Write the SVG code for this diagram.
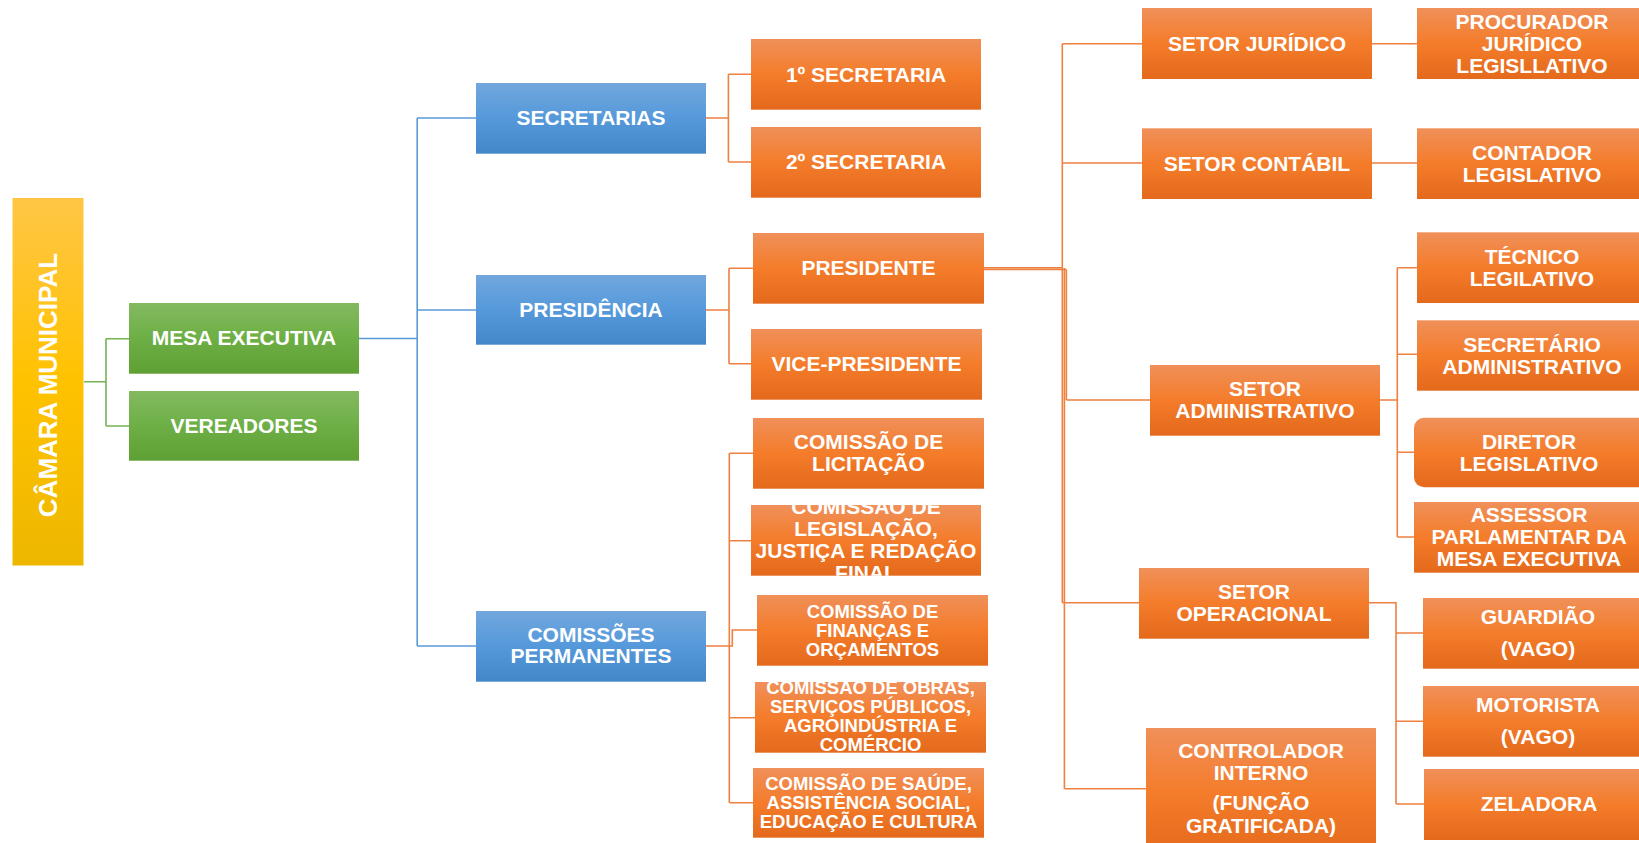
<svg xmlns="http://www.w3.org/2000/svg" width="1639" height="843" viewBox="0 0 1639 843">
<style>
.t{font-family:"Liberation Sans",Arial,sans-serif;font-weight:bold;font-size:21px;fill:#fff;text-anchor:middle}
.s{font-size:18.5px}
.o{fill:url(#gO)}
.b{fill:url(#gB)}
.g{fill:url(#gG)}
.cO{fill:none;stroke:#EE8040;stroke-width:1.6}
.cB{fill:none;stroke:#5B9BD5;stroke-width:1.6}
.cG{fill:none;stroke:#76B352;stroke-width:1.6}
</style>
<defs>
<linearGradient id="gO" x1="0" y1="0" x2="0" y2="1"><stop offset="0" stop-color="#F0905A"/><stop offset="0.5" stop-color="#F47C2A"/><stop offset="1" stop-color="#E4691C"/></linearGradient>
<linearGradient id="gB" x1="0" y1="0" x2="0" y2="1"><stop offset="0" stop-color="#72A7DD"/><stop offset="0.5" stop-color="#5599DB"/><stop offset="1" stop-color="#4387C9"/></linearGradient>
<linearGradient id="gG" x1="0" y1="0" x2="0" y2="1"><stop offset="0" stop-color="#83BA61"/><stop offset="0.5" stop-color="#6DAF45"/><stop offset="1" stop-color="#5FA034"/></linearGradient>
<linearGradient id="gY" x1="0" y1="0" x2="0" y2="1"><stop offset="0" stop-color="#FFC646"/><stop offset="0.5" stop-color="#FFC200"/><stop offset="1" stop-color="#EDB700"/></linearGradient>
<clipPath id="clLeg"><rect x="751" y="505" width="230" height="70.7"/></clipPath>
<clipPath id="clObr"><rect x="755" y="682" width="231" height="70.7"/></clipPath>
</defs>
<rect width="1639" height="843" fill="#fff"/>

<g id="connectors">
<path class="cG" d="M84,381.7 H106 M106,338.7 V426 M106,338.7 H129 M106,426 H129"/>
<path class="cB" d="M359,338.5 H417.2 M417.2,118 V646 M417.2,118 H476 M417.2,310 H476 M417.2,646 H476"/>
<path class="cO" d="M706,118 H728.4 M728.4,74.3 V162 M728.4,74.3 H751 M728.4,162 H751"/>
<path class="cO" d="M706,310 H729 M729,268.3 V363.7 M729,268.3 H753 M729,363.7 H751"/>
<path class="cO" d="M706,646 H732.3 V630 H757 M729.3,453.3 V802.7 M729.3,453.3 H753 M729.3,540.7 H751 M729.3,717.7 H755 M729.3,802.7 H753"/>
<path class="cO" d="M984,267.7 H1062.3 M984,269.5 H1066.4 M1062.3,43.7 V602.7 M1064.4,268 V788.7 M1066.4,269.5 V400 M1062.3,43.7 H1142 M1062.3,163 H1142 M1066.4,400 H1150 M1062.3,602.7 H1139 M1064.4,788.7 H1146"/>
<path class="cO" d="M1372,43.7 H1417 M1372,163 H1417"/>
<path class="cO" d="M1380,400 H1397.3 M1397.3,267.7 V537 M1397.3,267.7 H1417 M1397.3,354.3 H1417 M1397.3,452.3 H1414 M1397.3,537 H1414"/>
<path class="cO" d="M1369,602.7 H1396 V804 M1396,633 H1423 M1396,721.3 H1423 M1396,804 H1424"/>
</g>

<g id="camara"><rect x="12.5" y="198" width="71" height="367.5" fill="url(#gY)"/><text class="t" font-size="26" style="font-size:26px" transform="translate(57,385) rotate(-90)">CÂMARA MUNICIPAL</text></g>
<g id="mesa"><rect class="g" x="129" y="303" width="230" height="70.7"/><text class="t" x="244" y="345">MESA EXECUTIVA</text></g>
<g id="vereadores"><rect class="g" x="129" y="391" width="230" height="69.7"/><text class="t" x="244" y="432.7">VEREADORES</text></g>

<g id="secretarias"><rect class="b" x="476" y="83" width="230" height="70.7"/><text class="t" x="591" y="125">SECRETARIAS</text></g>
<g id="presidencia"><rect class="b" x="476" y="275" width="230" height="69.7"/><text class="t" x="591" y="316.7">PRESIDÊNCIA</text></g>
<g id="comissoes"><rect class="b" x="476" y="611" width="230" height="70.7"/><text class="t" x="591" y="641.7">COMISSÕES</text><text class="t" x="591" y="663.3">PERMANENTES</text></g>

<g id="sec1"><rect class="o" x="751" y="39" width="230" height="70.7"/><text class="t" x="866" y="81.7">1º SECRETARIA</text></g>
<g id="sec2"><rect class="o" x="751" y="127" width="230" height="70.7"/><text class="t" x="866" y="169">2º SECRETARIA</text></g>
<g id="presidente"><rect class="o" x="753" y="233" width="231" height="70.7"/><text class="t" x="868.5" y="275">PRESIDENTE</text></g>
<g id="vice"><rect class="o" x="751" y="329" width="231" height="70.7"/><text class="t" x="866.5" y="371">VICE-PRESIDENTE</text></g>

<g id="licitacao"><rect class="o" x="753" y="418" width="231" height="70.7"/><text class="t" x="868.5" y="449.3">COMISSÃO DE</text><text class="t" x="868.5" y="471.3">LICITAÇÃO</text></g>
<g id="legislacao"><rect class="o" x="751" y="505" width="230" height="70.7"/><g clip-path="url(#clLeg)"><text class="t" x="866" y="514.3">COMISSÃO DE</text><text class="t" x="866" y="536.3">LEGISLAÇÃO,</text><text class="t" x="866" y="558.3">JUSTIÇA E REDAÇÃO</text><text class="t" x="866" y="580.3">FINAL</text></g></g>
<g id="financas"><rect class="o" x="757" y="595" width="231" height="70.7"/><text class="t s" x="872.5" y="617.5">COMISSÃO DE</text><text class="t s" x="872.5" y="636.5">FINANÇAS E</text><text class="t s" x="872.5" y="655.5">ORÇAMENTOS</text></g>
<g id="obras"><rect class="o" x="755" y="682" width="231" height="70.7"/><g clip-path="url(#clObr)"><text class="t s" x="870.5" y="693.5">COMISSÃO DE OBRAS,</text><text class="t s" x="870.5" y="712.5">SERVIÇOS PÚBLICOS,</text><text class="t s" x="870.5" y="731.5">AGROINDÚSTRIA E</text><text class="t s" x="870.5" y="750.5">COMÉRCIO</text></g></g>
<g id="saude"><rect class="o" x="753" y="768" width="231" height="69.7"/><text class="t s" x="868.5" y="790">COMISSÃO DE SAÚDE,</text><text class="t s" x="868.5" y="809">ASSISTÊNCIA SOCIAL,</text><text class="t s" x="868.5" y="827.7">EDUCAÇÃO E CULTURA</text></g>

<g id="juridico"><rect class="o" x="1142" y="8" width="230" height="71"/><text class="t" x="1257" y="50.5">SETOR JURÍDICO</text></g>
<g id="contabil"><rect class="o" x="1142" y="128.3" width="230" height="70.7"/><text class="t" x="1257" y="170.7">SETOR CONTÁBIL</text></g>
<g id="administrativo"><rect class="o" x="1150" y="365" width="230" height="70.7"/><text class="t" x="1265" y="396.3">SETOR</text><text class="t" x="1265" y="418.3">ADMINISTRATIVO</text></g>
<g id="operacional"><rect class="o" x="1139" y="568" width="230" height="70.7"/><text class="t" x="1254" y="599.3">SETOR</text><text class="t" x="1254" y="621.3">OPERACIONAL</text></g>
<g id="controlador"><rect class="o" x="1146" y="728" width="230" height="130"/><text class="t" x="1261" y="758.3">CONTROLADOR</text><text class="t" x="1261" y="780.3">INTERNO</text><text class="t" x="1261" y="810">(FUNÇÃO</text><text class="t" x="1261" y="833.3">GRATIFICADA)</text></g>

<g id="procurador"><rect class="o" x="1417" y="8" width="230" height="71"/><text class="t" x="1532" y="28.5">PROCURADOR</text><text class="t" x="1532" y="50.5">JURÍDICO</text><text class="t" x="1532" y="72.5">LEGISLLATIVO</text></g>
<g id="contador"><rect class="o" x="1417" y="128.3" width="230" height="70.7"/><text class="t" x="1532" y="159.7">CONTADOR</text><text class="t" x="1532" y="181.7">LEGISLATIVO</text></g>
<g id="tecnico"><rect class="o" x="1417" y="232.3" width="230" height="70.7"/><text class="t" x="1532" y="263.7">TÉCNICO</text><text class="t" x="1532" y="285.7">LEGILATIVO</text></g>
<g id="secretario"><rect class="o" x="1417" y="320.3" width="230" height="70.4"/><text class="t" x="1532" y="351.5">SECRETÁRIO</text><text class="t" x="1532" y="373.5">ADMINISTRATIVO</text></g>
<g id="diretor"><rect class="o" x="1414" y="417.7" width="234" height="69.6" rx="10"/><text class="t" x="1529" y="448.5">DIRETOR</text><text class="t" x="1529" y="470.5">LEGISLATIVO</text></g>
<g id="assessor"><rect class="o" x="1414" y="502" width="234" height="70.7"/><text class="t" x="1529" y="522.3">ASSESSOR</text><text class="t" x="1529" y="544.3">PARLAMENTAR DA</text><text class="t" x="1529" y="566.3">MESA EXECUTIVA</text></g>
<g id="guardiao"><rect class="o" x="1423" y="598" width="230" height="70.7"/><text class="t" x="1538" y="624.3">GUARDIÃO</text><text class="t" x="1538" y="656.3">(VAGO)</text></g>
<g id="motorista"><rect class="o" x="1423" y="686" width="230" height="70.7"/><text class="t" x="1538" y="712.3">MOTORISTA</text><text class="t" x="1538" y="744.3">(VAGO)</text></g>
<g id="zeladora"><rect class="o" x="1424" y="769" width="230" height="71"/><text class="t" x="1539" y="811">ZELADORA</text></g>
</svg>
